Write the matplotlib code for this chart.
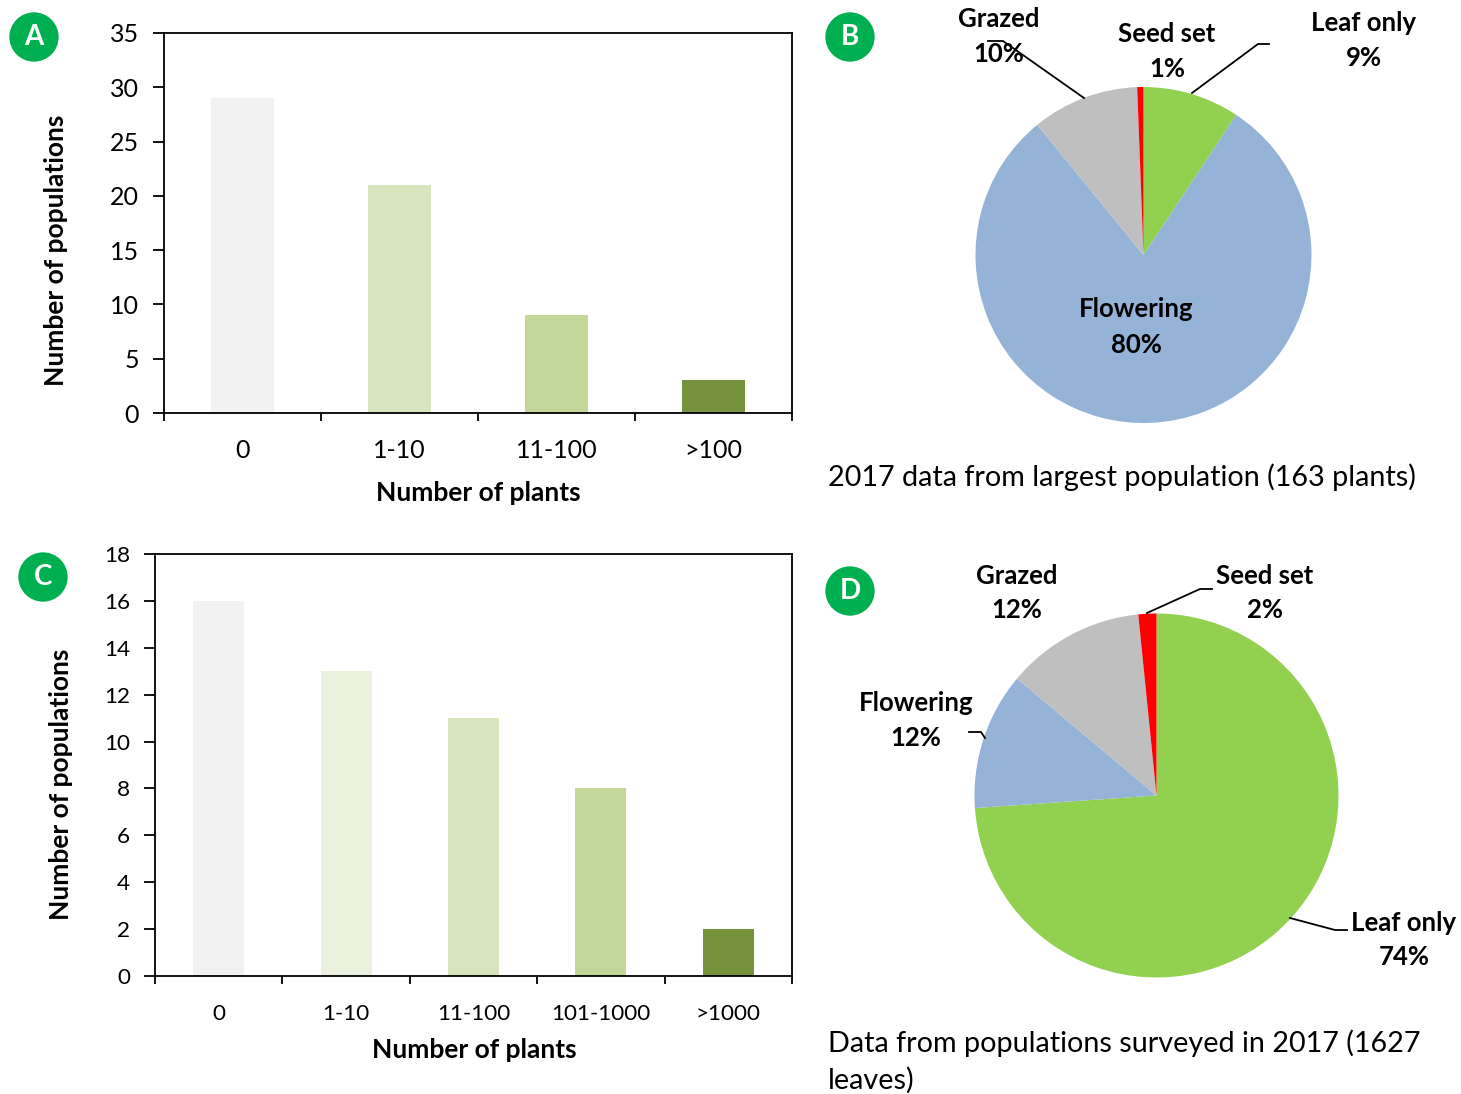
import matplotlib
matplotlib.use("Agg")
import matplotlib.pyplot as plt

W, H = 1461, 1094

plt.rcParams["font.family"] = ["Lato", "DejaVu Sans"]

cats_a = ["0", "1-10", "11-100", ">100"]
vals_a = [29, 21, 9, 3]
cols_a = ["#f2f2f2", "#d8e4bc", "#c4d79b", "#76933c"]

cats_c = ["0", "1-10", "11-100", "101-1000", ">1000"]
vals_c = [16, 13, 11, 8, 2]
cols_c = ["#f2f2f2", "#ebf1de", "#d8e4bc", "#c4d79b", "#76933c"]

# slices, slightly off the rounded labels
pie_b = [9.3, 79.8, 10.3, 0.6]
pie_d = [73.9, 12.2, 12.3, 1.6]
pie_cols = ["#92d050", "#95b3d7", "#bfbfbf", "#ff0000"]

fig = plt.figure(figsize=(W / 100, H / 100), dpi=100)


def px_axes(x0, y0, x1, y1):
    # pixel box, y counted from the top of the picture
    return fig.add_axes([x0 / W, 1 - y1 / H, (x1 - x0) / W, (y1 - y0) / H])


def ftext(x, y, s, size=18.5, weight="normal", ha="center", color="black"):
    fig.text(x / W, 1 - y / H, s, fontsize=size, fontweight=weight, ha=ha, va="center", color=color)


def make_bars(box, cats, vals, cols, ymax, step, width, xlab_y, ylab_x, ylab_y, xlab_x, size):
    ax = px_axes(*box)
    ax.bar(range(len(cats)), vals, width=width, color=cols)
    ax.set_xlim(-0.5, len(cats) - 0.5)
    ax.set_ylim(0, ymax)
    ax.set_yticks(range(0, ymax + 1, step))
    ax.set_xticks([i - 0.5 for i in range(len(cats) + 1)])
    ax.set_xticklabels([])
    ax.tick_params(axis="x", direction="out", length=6, width=1.3)
    ax.tick_params(axis="y", direction="out", length=8, width=1.3, labelsize=size, pad=10)
    for i, c in enumerate(cats):
        ax.annotate(c, (i, 0), xycoords=("data", "axes fraction"), xytext=(0, -27),
                    textcoords="offset points", ha="center", va="center", fontsize=size)
    for s in ax.spines.values():
        s.set_linewidth(1.3)
    ftext(xlab_x, xlab_y, "Number of plants", 19, "bold")
    fig.text(ylab_x / W, 1 - ylab_y / H, "Number of populations", fontsize=19,
             fontweight="bold", rotation=90, ha="center", va="center")
    return ax


def make_pie(cx, cy, r, vals):
    ax = px_axes(cx - r, cy - r, cx + r, cy + r)
    ax.pie(vals, colors=pie_cols, startangle=90, counterclock=False, radius=1.0)
    ax.set_xlim(-1, 1)
    ax.set_ylim(-1, 1)
    ax.set_aspect("equal")
    return ax


def leader(points):
    xs = [p[0] / W for p in points]
    ys = [1 - p[1] / H for p in points]
    fig.add_artist(plt.Line2D(xs, ys, color="black", lw=1.3))


make_bars((164, 33, 792, 413), cats_a, vals_a, cols_a, 35, 5, 0.4, 493, 56, 250, 478, 18)
make_bars((155, 554, 792, 976), cats_c, vals_c, cols_c, 18, 2, 0.4, 1050, 61, 784, 474, 16.2)

make_pie(1143.5, 255, 168, pie_b)
make_pie(1156.5, 795.5, 182, pie_d)

# panel badges
for x, y, s in [(34, 37, "A"), (850, 37, "B"), (43, 577, "C"), (850, 591, "D")]:
    fig.text(x / W, 1 - y / H, s, fontsize=20, fontweight="bold", color="white", ha="center", va="center",
             bbox=dict(boxstyle="circle,pad=0.42", fc="#00b050", ec="none"))

# pie B labels
leader([(988, 41), (1003, 41), (1084, 98)])
leader([(1192, 93), (1258, 44), (1269, 44)])
ftext(999, 19, "Grazed", weight="bold")
ftext(999, 54, "10%", weight="bold")
ftext(1167, 34, "Seed set", weight="bold")
ftext(1167, 69, "1%", weight="bold")
ftext(1364, 23, "Leaf only", weight="bold")
ftext(1364, 58, "9%", weight="bold")
ftext(1136, 309, "Flowering", weight="bold")
ftext(1136, 345, "80%", weight="bold")
ftext(828, 477, "2017 data from largest population (163 plants)", 20.7, ha="left")

# pie D labels
leader([(1147, 613), (1200, 589), (1212, 589)])
leader([(969, 732), (981, 732), (985, 738)])
leader([(1290, 918), (1335, 930), (1347, 930)])
ftext(1017, 576, "Grazed", weight="bold")
ftext(1017, 610, "12%", weight="bold")
ftext(1265, 576, "Seed set", weight="bold")
ftext(1265, 610, "2%", weight="bold")
ftext(916, 703, "Flowering", weight="bold")
ftext(916, 738, "12%", weight="bold")
ftext(1404, 923, "Leaf only", weight="bold")
ftext(1404, 957, "74%", weight="bold")
ftext(828, 1043, "Data from populations surveyed in 2017 (1627", 20.7, ha="left")
ftext(828, 1080, "leaves)", 20.7, ha="left")

fig.savefig("out.png", dpi=100)
